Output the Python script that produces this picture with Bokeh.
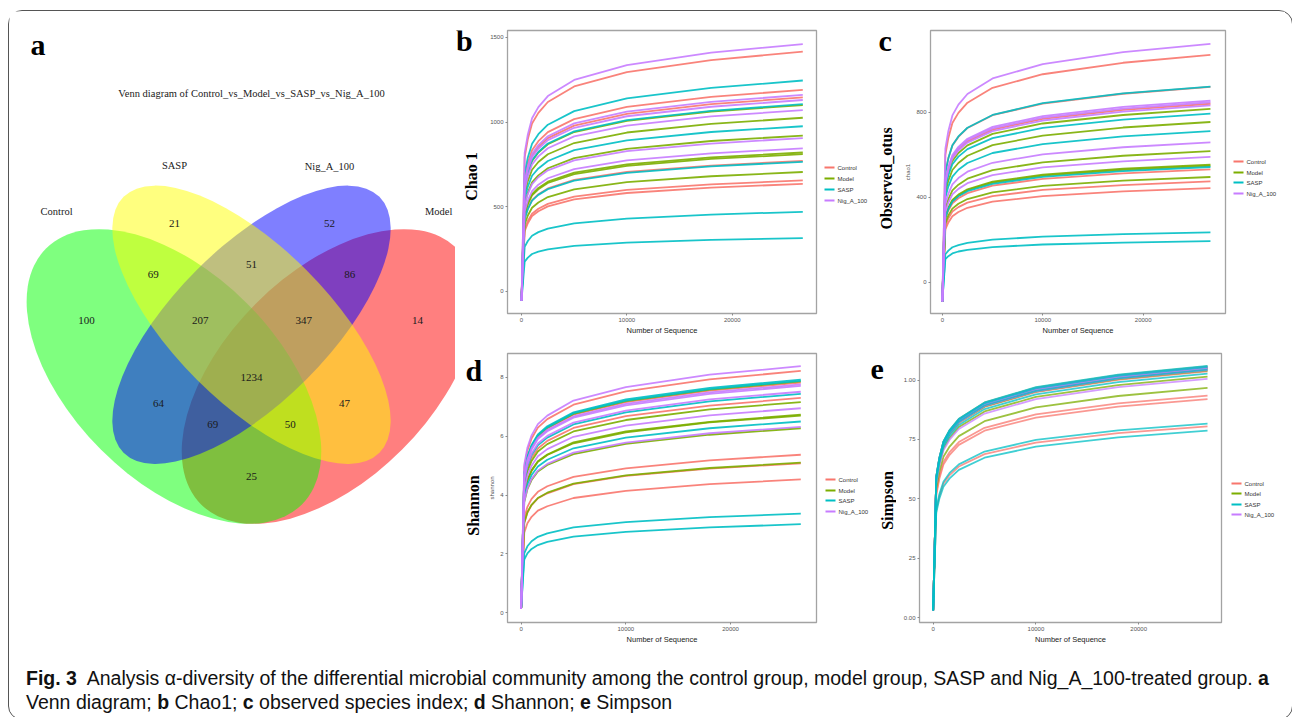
import numpy as np
from bokeh.plotting import figure
from bokeh.models import Range1d, FixedTicker, Div
from bokeh.layouts import row, column
from bokeh.embed import file_html
from bokeh.resources import INLINE
from bokeh.core.properties import value

# ---------------- data ----------------
GROUPS = ["Control", "Model", "SASP", "Nig_A_100"]
GROUP_COLORS = ["#F8766D", "#7CAE00", "#00BFC4", "#C77CFF"]

SEQ = [0, 300, 600, 1000, 1600, 2500, 5000, 10000, 18000, 26700]
X_TICKS = [0, 10000, 20000]

CHAO1_CONTROL = [
    [-55, 792, 899, 991, 1054, 1118, 1210, 1295, 1365, 1415],
    [-55, 666, 756, 833, 887, 940, 1017, 1089, 1148, 1190],
    [-55, 641, 727, 802, 853, 905, 979, 1048, 1105, 1145],
    [-55, 431, 489, 539, 574, 608, 658, 705, 743, 770],
    [-55, 367, 416, 459, 488, 517, 560, 599, 632, 655],
    [-55, 356, 403, 445, 473, 502, 543, 581, 613, 635],
]
CHAO1_MODEL = [
    [-55, 616, 699, 770, 820, 869, 941, 1007, 1062, 1100],
    [-55, 574, 651, 718, 764, 810, 876, 938, 989, 1025],
    [-55, 515, 584, 644, 685, 727, 787, 842, 888, 920],
    [-55, 459, 521, 574, 611, 648, 701, 750, 791, 820],
    [-55, 454, 514, 567, 603, 640, 693, 741, 782, 810],
    [-55, 395, 448, 494, 525, 557, 603, 645, 680, 705],
]
CHAO1_SASP = [
    [-55, 697, 791, 872, 928, 984, 1064, 1139, 1201, 1245],
    [-55, 619, 702, 774, 823, 873, 945, 1011, 1066, 1105],
    [-55, 546, 619, 683, 726, 770, 834, 892, 941, 975],
    [-55, 428, 486, 536, 570, 604, 654, 700, 738, 765],
    [-55, 263, 298, 329, 350, 371, 402, 430, 454, 470],
    [-55, 176, 200, 221, 235, 249, 269, 288, 304, 315],
]
CHAO1_NIG = [
    [-55, 818, 927, 1022, 1088, 1153, 1248, 1336, 1409, 1460],
    [-55, 650, 737, 812, 864, 916, 992, 1061, 1119, 1160],
    [-55, 633, 718, 791, 842, 893, 966, 1034, 1090, 1130],
    [-55, 599, 679, 749, 797, 845, 915, 979, 1033, 1070],
    [-55, 507, 575, 634, 674, 715, 774, 828, 873, 905],
    [-55, 473, 537, 592, 630, 668, 722, 773, 815, 845],
]

OBS_CONTROL = [
    [-90, 600, 680, 750, 798, 846, 916, 980, 1034, 1071],
    [-90, 515, 584, 644, 685, 727, 787, 842, 888, 920],
    [-90, 471, 534, 589, 627, 664, 719, 770, 812, 841],
    [-90, 298, 338, 372, 396, 420, 455, 487, 513, 532],
    [-90, 266, 302, 333, 354, 375, 406, 435, 458, 475],
    [-90, 249, 282, 311, 331, 351, 380, 406, 428, 444],
]
OBS_MODEL = [
    [-90, 458, 519, 572, 609, 645, 699, 748, 788, 817],
    [-90, 423, 479, 529, 562, 596, 646, 691, 729, 755],
    [-90, 346, 392, 433, 460, 488, 528, 565, 596, 618],
    [-90, 310, 352, 388, 413, 438, 474, 507, 535, 554],
    [-90, 307, 349, 384, 409, 434, 469, 502, 530, 549],
    [-90, 278, 315, 347, 370, 392, 424, 454, 479, 496],
]
OBS_SASP = [
    [-90, 516, 585, 645, 687, 728, 788, 844, 890, 922],
    [-90, 445, 504, 556, 592, 627, 679, 727, 766, 794],
    [-90, 399, 452, 498, 530, 562, 609, 651, 687, 712],
    [-90, 304, 345, 380, 405, 429, 464, 497, 524, 543],
    [-90, 132, 149, 165, 175, 186, 201, 215, 227, 235],
    [-90, 109, 123, 136, 145, 153, 166, 178, 187, 194],
]
OBS_NIG = [
    [-90, 629, 713, 786, 837, 887, 960, 1028, 1084, 1123],
    [-90, 479, 544, 599, 638, 676, 732, 783, 826, 856],
    [-90, 475, 538, 594, 632, 670, 725, 776, 818, 848],
    [-90, 466, 529, 583, 621, 658, 712, 762, 804, 833],
    [-90, 369, 418, 461, 491, 521, 563, 603, 636, 659],
    [-90, 331, 375, 414, 440, 467, 505, 541, 570, 591],
]

SHANNON_CONTROL = [
    [0.13, 4.93, 5.51, 5.92, 6.29, 6.58, 7.07, 7.52, 7.93, 8.22],
    [0.13, 4.69, 5.24, 5.63, 5.98, 6.26, 6.73, 7.16, 7.55, 7.82],
    [0.13, 4.38, 4.89, 5.26, 5.58, 5.84, 6.28, 6.68, 7.04, 7.30],
    [0.13, 3.22, 3.60, 3.87, 4.11, 4.30, 4.62, 4.91, 5.18, 5.37],
    [0.13, 3.05, 3.40, 3.66, 3.89, 4.06, 4.37, 4.65, 4.90, 5.08],
    [0.13, 2.72, 3.04, 3.26, 3.47, 3.62, 3.90, 4.14, 4.37, 4.53],
]
SHANNON_MODEL = [
    [0.13, 4.72, 5.27, 5.66, 6.01, 6.29, 6.76, 7.19, 7.58, 7.86],
    [0.13, 4.30, 4.80, 5.16, 5.48, 5.73, 6.16, 6.55, 6.91, 7.16],
    [0.13, 4.04, 4.51, 4.85, 5.15, 5.38, 5.79, 6.16, 6.49, 6.73],
    [0.13, 4.02, 4.49, 4.82, 5.13, 5.36, 5.76, 6.13, 6.47, 6.70],
    [0.13, 3.76, 4.20, 4.51, 4.80, 5.02, 5.39, 5.74, 6.05, 6.27],
    [0.13, 3.06, 3.42, 3.67, 3.90, 4.08, 4.39, 4.67, 4.92, 5.10],
]
SHANNON_SASP = [
    [0.13, 4.75, 5.31, 5.70, 6.06, 6.34, 6.81, 7.25, 7.64, 7.92],
    [0.13, 4.73, 5.28, 5.67, 6.03, 6.30, 6.78, 7.21, 7.60, 7.88],
    [0.13, 4.46, 4.98, 5.36, 5.69, 5.95, 6.40, 6.81, 7.18, 7.44],
    [0.13, 3.90, 4.36, 4.68, 4.97, 5.20, 5.59, 5.95, 6.27, 6.50],
    [0.13, 2.02, 2.26, 2.43, 2.58, 2.70, 2.90, 3.08, 3.25, 3.37],
    [0.13, 1.81, 2.02, 2.17, 2.30, 2.41, 2.59, 2.75, 2.90, 3.01],
]
SHANNON_NIG = [
    [0.13, 5.03, 5.61, 6.03, 6.41, 6.70, 7.21, 7.67, 8.09, 8.38],
    [0.13, 4.66, 5.20, 5.59, 5.94, 6.21, 6.67, 7.10, 7.49, 7.76],
    [0.13, 4.63, 5.17, 5.55, 5.90, 6.17, 6.63, 7.05, 7.44, 7.71],
    [0.13, 4.51, 5.03, 5.41, 5.75, 6.01, 6.46, 6.87, 7.25, 7.51],
    [0.13, 4.17, 4.66, 5.00, 5.32, 5.56, 5.98, 6.36, 6.71, 6.95],
    [0.13, 3.79, 4.23, 4.55, 4.83, 5.06, 5.44, 5.78, 6.10, 6.32],
]

SIMPSON_CONTROL = [
    [0.03, 0.588, 0.667, 0.735, 0.782, 0.830, 0.898, 0.961, 1.013, 1.050],
    [0.03, 0.585, 0.664, 0.732, 0.779, 0.826, 0.893, 0.956, 1.008, 1.045],
    [0.03, 0.581, 0.658, 0.726, 0.773, 0.819, 0.887, 0.949, 1.001, 1.037],
    [0.03, 0.524, 0.594, 0.655, 0.697, 0.739, 0.799, 0.856, 0.902, 0.935],
    [0.03, 0.515, 0.584, 0.644, 0.685, 0.727, 0.787, 0.842, 0.888, 0.920],
    [0.03, 0.451, 0.511, 0.564, 0.600, 0.636, 0.688, 0.737, 0.777, 0.805],
]
SIMPSON_MODEL = [
    [0.03, 0.592, 0.672, 0.741, 0.788, 0.836, 0.905, 0.968, 1.021, 1.058],
    [0.03, 0.589, 0.668, 0.736, 0.784, 0.831, 0.899, 0.963, 1.015, 1.052],
    [0.03, 0.587, 0.665, 0.734, 0.781, 0.828, 0.896, 0.959, 1.011, 1.048],
    [0.03, 0.582, 0.660, 0.728, 0.775, 0.822, 0.889, 0.952, 1.004, 1.040],
    [0.03, 0.568, 0.645, 0.711, 0.756, 0.802, 0.868, 0.929, 0.979, 1.015],
    [0.03, 0.542, 0.614, 0.677, 0.720, 0.764, 0.827, 0.885, 0.933, 0.967],
]
SIMPSON_SASP = [
    [0.03, 0.594, 0.673, 0.742, 0.790, 0.837, 0.906, 0.970, 1.023, 1.060],
    [0.03, 0.591, 0.670, 0.739, 0.786, 0.833, 0.902, 0.965, 1.018, 1.055],
    [0.03, 0.585, 0.663, 0.731, 0.778, 0.825, 0.893, 0.955, 1.007, 1.044],
    [0.03, 0.575, 0.652, 0.719, 0.765, 0.811, 0.878, 0.940, 0.991, 1.027],
    [0.03, 0.458, 0.519, 0.572, 0.609, 0.645, 0.699, 0.748, 0.788, 0.817],
    [0.03, 0.441, 0.500, 0.551, 0.586, 0.622, 0.673, 0.720, 0.759, 0.787],
]
SIMPSON_NIG = [
    [0.03, 0.592, 0.671, 0.740, 0.787, 0.835, 0.904, 0.967, 1.020, 1.057],
    [0.03, 0.590, 0.669, 0.737, 0.784, 0.832, 0.900, 0.963, 1.016, 1.053],
    [0.03, 0.588, 0.667, 0.735, 0.782, 0.830, 0.898, 0.961, 1.013, 1.050],
    [0.03, 0.586, 0.664, 0.732, 0.779, 0.826, 0.894, 0.957, 1.009, 1.046],
    [0.03, 0.584, 0.662, 0.729, 0.776, 0.823, 0.891, 0.953, 1.006, 1.042],
    [0.03, 0.563, 0.638, 0.704, 0.749, 0.794, 0.859, 0.920, 0.970, 1.005],
]

VENN_TITLE = "Venn diagram of Control_vs_Model_vs_SASP_vs_Nig_A_100"
VENN_SETS = ["Control", "Model", "SASP", "Nig_A_100"]
VENN_REGIONS = ["SASP", "Nig_A_100", "Control&SASP", "SASP&Nig_A_100", "Nig_A_100&Model",
                "Control", "Control&SASP&Nig_A_100", "SASP&Nig_A_100&Model", "Model",
                "all", "Control&Nig_A_100", "Control&Nig_A_100&Model",
                "Control&SASP&Model", "SASP&Model", "Control&Model"]
VENN_COUNTS = [21, 52, 69, 51, 86, 100, 207, 347, 14, 1234, 64, 69, 50, 47, 25]

# ---------------- layout constants (positions / styles, not data) ----------------
SERIF = "Liberation Serif"
SANS = "Liberation Sans"

ELL_X = [0.65, 0.35, 0.50, 0.50]          # Model, Control, Nig_A_100, SASP
ELL_Y = [0.47, 0.47, 0.57, 0.57]
ELL_W = [0.70, 0.70, 0.70, 0.70]
ELL_H = [0.40, 0.40, 0.30, 0.30]
ELL_A = [45, 135, 45, 135]
ELL_C = ["#FF0000", "#00FF00", "#0000FF", "#FFFF00"]

REG_X = [0.351, 0.651, 0.310, 0.500, 0.690, 0.181, 0.401, 0.601, 0.821,
         0.500, 0.320, 0.425, 0.575, 0.680, 0.500]
REG_Y = [0.766, 0.766, 0.667, 0.687, 0.667, 0.578, 0.578, 0.578, 0.578,
         0.468, 0.418, 0.377, 0.377, 0.418, 0.277]
SET_LX = [0.123, 0.862, 0.351, 0.651]
SET_LY = [0.789, 0.789, 0.878, 0.876]

ROW1_H, ROW1_T, ROW1_B = 339, 19, 37
ROW2_H, ROW2_T, ROW2_B = 309, 3, 37

# ---------------- Venn figure ----------------
venn = figure(width=446, height=ROW1_H + ROW2_H, x_range=Range1d(0.0319, 0.8946),
              y_range=Range1d(-0.0774, 1.176), min_border=0,
              x_axis_location=None, y_axis_location=None,
              output_backend="svg", toolbar_location=None)
venn.grid.visible = False
venn.outline_line_color = None
venn.ellipse(x=ELL_X, y=ELL_Y, width=ELL_W, height=ELL_H, angle=ELL_A,
             angle_units="deg", fill_color=ELL_C, fill_alpha=0.5, line_color=None)
venn.text(x=REG_X, y=REG_Y, text=[str(c) for c in VENN_COUNTS],
          text_font=value(SERIF), text_font_size="11px", text_color="#1a1a1a",
          text_align="center", text_baseline="middle")
venn.text(x=SET_LX, y=SET_LY, text=VENN_SETS, text_font=value(SERIF),
          text_font_size="10.5px", text_color="#1a1a1a",
          text_align="center", text_baseline="middle")
venn.text(x=[0.5], y=[1.0174], text=[VENN_TITLE], text_font=value(SERIF),
          text_font_size="10.5px", text_color="#1a1a1a",
          text_align="center", text_baseline="middle")
venn.text(x=[0.0725], y=[1.112], text=["a"], text_font=value(SERIF),
          text_font_style="bold", text_font_size="30px", text_color="#000000",
          text_align="left", text_baseline="alphabetic")


def blank(w, h, t, b):
    s = figure(width=w, height=h, x_range=Range1d(0, w), y_range=Range1d(b, h - t),
               min_border_left=0, min_border_right=0, min_border_top=t,
               min_border_bottom=b, x_axis_location=None, y_axis_location=None,
               output_backend="svg", toolbar_location=None)
    s.grid.visible = False
    s.outline_line_color = None
    return s


def label_strip(w, h, t, b, letter, letter_xy, ylabel, ylabel_xy):
    s = blank(w, h, t, b)
    s.text(x=[letter_xy[0]], y=[letter_xy[1]], text=[letter], text_font=value(SERIF),
           text_font_style="bold", text_font_size="30px", text_color="#000000",
           text_align="left", text_baseline="alphabetic")
    s.text(x=[ylabel_xy[0]], y=[ylabel_xy[1]], text=[ylabel], text_font=value(SERIF),
           text_font_style="bold", text_font_size="16px", text_color="#000000",
           text_align="center", text_baseline="middle", angle=np.pi / 2)
    return s


def legend_strip(w, h, t, b, x0, ys):
    s = blank(w, h, t, b)
    s.segment(x0=[x0] * len(GROUPS), x1=[x0 + 10] * len(GROUPS), y0=ys, y1=ys,
              line_color=GROUP_COLORS, line_width=1.8)
    s.text(x=[x0 + 13] * len(GROUPS), y=ys, text=GROUPS, text_font=value(SANS),
           text_font_size="6px", text_color="#333333",
           text_align="left", text_baseline="middle")
    return s


def make_panel(curves, xr, yr, yticks, fw, fh, bl, br, bt, bb, small_label,
               overrides=None, alpha=0.9, order=(0, 1, 2, 3)):
    p = figure(frame_width=fw, frame_height=fh, min_border_left=bl,
               min_border_right=br, min_border_top=bt, min_border_bottom=bb,
               x_range=Range1d(*xr), y_range=Range1d(*yr),
               output_backend="svg", toolbar_location=None)
    p.grid.visible = False
    p.outline_line_color = "#a3a3a3"
    p.outline_line_width = 1.3
    for ax in (p.xaxis[0], p.yaxis[0]):
        ax.axis_line_color = None
        ax.major_tick_line_color = "#8a8a8a"
        ax.major_tick_out = 2
        ax.major_tick_in = 0
        ax.minor_tick_line_color = None
        ax.major_label_text_font = SANS
        ax.major_label_text_font_size = "6px"
        ax.major_label_text_color = "#555555"
        ax.major_label_standoff = 2
    p.xaxis.ticker = FixedTicker(ticks=X_TICKS)
    p.yaxis.ticker = FixedTicker(ticks=yticks)
    if overrides:
        p.yaxis.major_label_overrides = overrides
    p.xaxis.axis_label = "Number of Sequence"
    p.xaxis.axis_label_text_font = SANS
    p.xaxis.axis_label_text_font_style = "normal"
    p.xaxis.axis_label_text_font_size = "7.5px"
    p.xaxis.axis_label_text_color = "#222222"
    p.xaxis.axis_label_standoff = 1
    if small_label:
        p.yaxis.axis_label = small_label
        p.yaxis.axis_label_text_font = SANS
        p.yaxis.axis_label_text_font_style = "normal"
        p.yaxis.axis_label_text_font_size = "6px"
        p.yaxis.axis_label_text_color = "#555555"
        p.yaxis.axis_label_standoff = 2
    for i in order:
        p.multi_line(xs=[SEQ] * len(curves[i]), ys=curves[i], line_color=GROUP_COLORS[i],
                     line_width=1.8, line_alpha=alpha)
    return p


F1 = ROW1_H - ROW1_T - ROW1_B
F2 = ROW2_H - ROW2_T - ROW2_B

sb = label_strip(29, ROW1_H, ROW1_T, ROW1_B, "b", (0.5, 310), "Chao 1", (16, 174))
pb = make_panel([CHAO1_CONTROL, CHAO1_MODEL, CHAO1_SASP, CHAO1_NIG],
                (-1330, 28000), (-130, 1540), [0, 500, 1000, 1500],
                309, F1, 23, 4, ROW1_T, ROW1_B, None)
lb = legend_strip(49, ROW1_H, ROW1_T, ROW1_B, 4, [183, 172, 161, 150])

sc = label_strip(33, ROW1_H, ROW1_T, ROW1_B, "c", (9, 310), "Observed_otus", (17, 172))
pc = make_panel([OBS_CONTROL, OBS_MODEL, OBS_SASP, OBS_NIG],
                (-1180, 28200), (-147, 1186), [0, 400, 800],
                295, F1, 28, 4, ROW1_T, ROW1_B, "chao1")
lc = legend_strip(56, ROW1_H, ROW1_T, ROW1_B, 4, [189, 178, 168, 157])

sd = label_strip(29, ROW2_H, ROW2_T, ROW2_B, "d", (10, 289), "Shannon", (18, 154))
pd = make_panel([SHANNON_CONTROL, SHANNON_MODEL, SHANNON_SASP, SHANNON_NIG],
                (-1300, 28200), (-0.33, 8.81), [0, 2, 4, 6, 8],
                309, F2, 23, 4, ROW2_T, ROW2_B, "shannon")
ld = legend_strip(49, ROW2_H, ROW2_T, ROW2_B, 5, [180, 169, 159, 148])

se = label_strip(27, ROW2_H, ROW2_T, ROW2_B, "e", (1, 290), "Simpson", (18, 159))
pe = make_panel([SIMPSON_CONTROL, SIMPSON_MODEL, SIMPSON_SASP, SIMPSON_NIG],
                (-1330, 28060), (-0.021, 1.112), [0, 0.25, 0.5, 0.75, 1.0],
                302, F2, 23, 4, ROW2_T, ROW2_B, None,
                overrides={0: "0.00", 0.25: "25", 0.5: "50", 0.75: "75", 1: "1.00"},
                alpha=0.75, order=(0, 1, 3, 2))
le = legend_strip(60, ROW2_H, ROW2_T, ROW2_B, 6, [176, 166, 155, 145])

caption = Div(
    text=('<div style="padding:2px 0 0 12px; font-family:\'Liberation Sans\', sans-serif; '
          'font-size:19.5px; line-height:24px; color:#111; white-space:nowrap;">'
          '<b>Fig. 3</b>&nbsp; Analysis α-diversity of the differential microbial community '
          'among the control group, model group, SASP and Nig_A_100-treated group. <b>a</b><br>'
          'Venn diagram; <b>b</b> Chao1; <b>c</b> observed species index; <b>d</b> Shannon; '
          '<b>e</b> Simpson</div>'),
    width=1273, height=50)

right = column(row(sb, pb, lb, sc, pc, lc), row(sd, pd, ld, se, pe, le))
root = column(row(venn, right), caption,
              styles={"border": "1.3px solid #555555", "border-radius": "14px",
                      "margin-left": "8px", "margin-top": "10px"})

open("out.html", "w").write(file_html(root, INLINE))
